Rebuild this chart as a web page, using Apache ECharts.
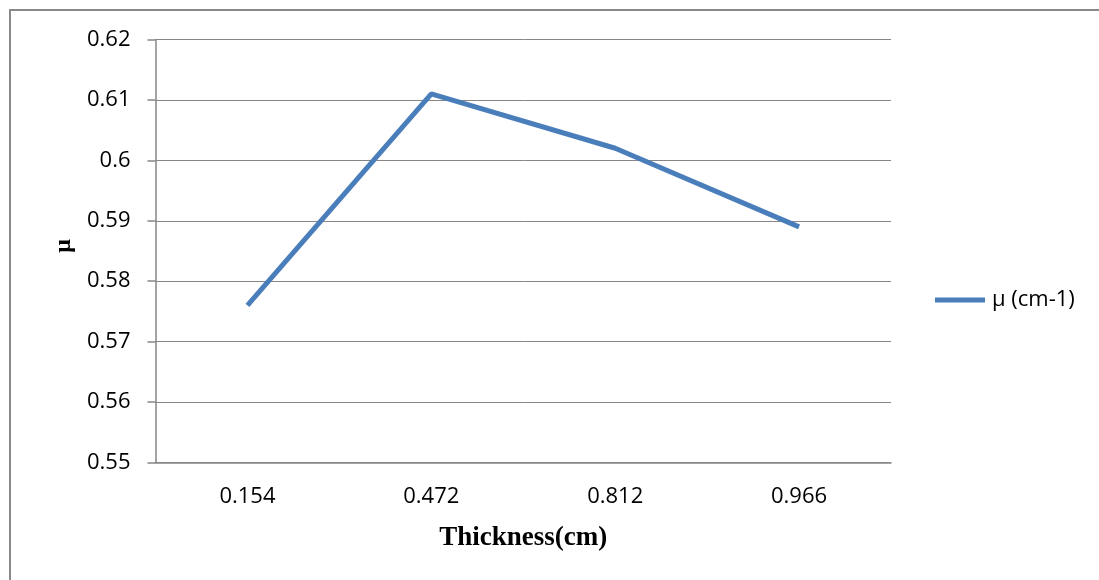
<!DOCTYPE html>
<html>
<head>
<meta charset="utf-8">
<script src="https://cdn.jsdelivr.net/npm/echarts@6/dist/echarts.min.js"></script>
<style>
html,body{margin:0;padding:0;background:#fff;}
#chart{width:1099px;height:580px;}
</style>
</head>
<body>
<div id="chart"></div>
<script>
const categories = ['0.154', '0.472', '0.812', '0.966'];
const muValues = [0.576, 0.611, 0.602, 0.589];
const seriesName = 'μ (cm-1)';
const xTitle = 'Thickness(cm)';
const yTitle = 'μ';

const chart = echarts.init(document.getElementById('chart'), null, {renderer: 'canvas'});
chart.setOption({
  animation: false,
  backgroundColor: '#fff',
  graphic: [{
    type: 'rect',
    shape: {x: 10, y: 10, width: 1200, height: 700},
    style: {fill: 'none', stroke: '#898989', lineWidth: 2},
    silent: true
  }],
  grid: {left: 155.5, top: 39.5, width: 735.5, height: 423, containLabel: false},
  legend: {
    data: [{name: seriesName, icon: 'path://M0,0 L10,0 L10,1 L0,1 Z'}],
    left: 930, top: 284,
    itemWidth: 56, itemHeight: 5, itemGap: 4,
    textStyle: {fontFamily: 'Open Sans, Liberation Sans, sans-serif', fontSize: 22, color: '#000', padding: [0, 0, 0, -1]}
  },
  xAxis: {
    type: 'category',
    data: categories,
    boundaryGap: true,
    name: xTitle,
    nameLocation: 'middle',
    nameGap: 62,
    nameTextStyle: {fontFamily: 'Liberation Serif, Times New Roman, serif', fontWeight: 'bold', fontSize: 27, color: '#000'},
    axisLine: {lineStyle: {color: '#868686', width: 1.5}},
    axisTick: {show: false},
    axisLabel: {fontFamily: 'Open Sans, Liberation Sans, sans-serif', fontSize: 22, color: '#000', margin: 23}
  },
  yAxis: {
    type: 'value',
    min: 0.55, max: 0.62, interval: 0.01,
    name: yTitle,
    nameLocation: 'middle',
    nameGap: 67,
    nameRotate: 90,
    nameTextStyle: {fontFamily: 'Liberation Serif, Times New Roman, serif', fontWeight: 'bold', fontSize: 24, color: '#000', padding: [0, 0, 0, 10]},
    axisLine: {show: true, lineStyle: {color: '#868686', width: 1.5}},
    axisTick: {show: true, length: 8, inside: false, lineStyle: {color: '#868686', width: 1.5}},
    splitLine: {lineStyle: {color: '#868686', width: 1}},
    axisLabel: {
      fontFamily: 'Open Sans, Liberation Sans, sans-serif', fontSize: 22, color: '#000', margin: 25,
      formatter: v => String(parseFloat(v.toFixed(2)))
    }
  },
  series: [{
    name: seriesName,
    type: 'line',
    data: muValues,
    symbol: 'none',
    lineStyle: {color: '#4a7ebb', width: 5},
    itemStyle: {color: '#4a7ebb'}
  }]
});
</script>
</body>
</html>
